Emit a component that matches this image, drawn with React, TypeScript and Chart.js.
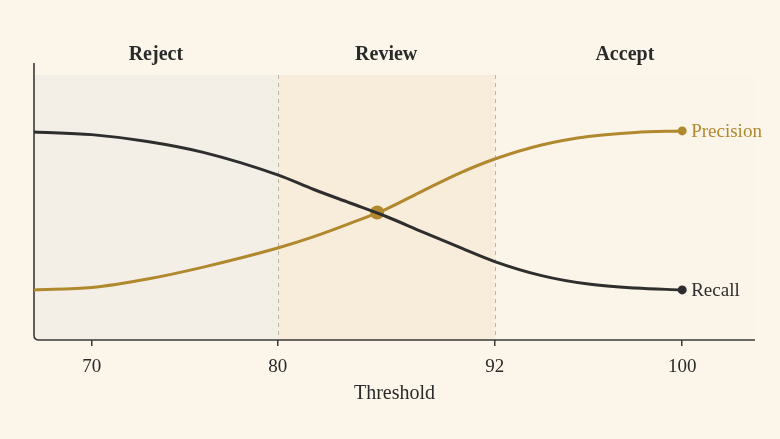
import React, { useEffect, useRef } from "react";
import { Chart, registerables, LinearScale } from "chart.js";

// ---- data ----
const thresholds = [67, 70, 73, 76, 80, 82, 84, 86, 88, 90, 92, 94, 96, 98, 100];
const recall = [0.785, 0.775, 0.749, 0.708, 0.623, 0.568, 0.517, 0.466, 0.408, 0.351, 0.296, 0.243, 0.211, 0.196, 0.189];
const precision = [0.189, 0.198, 0.23, 0.275, 0.347, 0.39, 0.44, 0.494, 0.562, 0.628, 0.683, 0.736, 0.768, 0.783, 0.789];
const crossing = { x: 85.5, y: 0.481 };
const tickValues = [70, 80, 92, 100];
const zoneNames = ["Reject", "Review", "Accept"];
const zoneBounds = [67, 80, 92, 103];
const boundaryLines = [80, 92];
// piecewise axis: threshold values and where they sit along the axis (0..1)
const axisValues = [67, 70, 80, 92, 100, 103];
const axisFractions = [0, 0.08, 0.338, 0.639, 0.899, 1];

const GOLD = "#B0882E";
const DARK = "#2E2E2E";
const BG = "#FBF5EA";
const SERIF = "'Liberation Serif', 'Times New Roman', serif";

function toFrac(v: number) {
  const n = axisValues.length;
  if (v <= axisValues[0]) {
    const s = (axisFractions[1] - axisFractions[0]) / (axisValues[1] - axisValues[0]);
    return axisFractions[0] + (v - axisValues[0]) * s;
  }
  for (let i = 0; i < n - 1; i++) {
    if (v <= axisValues[i + 1]) {
      const t = (v - axisValues[i]) / (axisValues[i + 1] - axisValues[i]);
      return axisFractions[i] + t * (axisFractions[i + 1] - axisFractions[i]);
    }
  }
  const s = (axisFractions[n - 1] - axisFractions[n - 2]) / (axisValues[n - 1] - axisValues[n - 2]);
  return axisFractions[n - 1] + (v - axisValues[n - 1]) * s;
}
function fromFrac(f: number) {
  const n = axisFractions.length;
  for (let i = 0; i < n - 1; i++) {
    if (f <= axisFractions[i + 1] || i === n - 2) {
      const t = (f - axisFractions[i]) / (axisFractions[i + 1] - axisFractions[i]);
      return axisValues[i] + t * (axisValues[i + 1] - axisValues[i]);
    }
  }
  return axisValues[n - 1];
}

class PiecewiseScale extends LinearScale {
  static id = "piecewise";
  static defaults = (LinearScale as any).defaults;
  getPixelForValue(value: number) {
    return (this as any).getPixelForDecimal(toFrac(value));
  }
  getValueForPixel(pixel: number) {
    return fromFrac((this as any).getDecimalForPixel(pixel));
  }
}

Chart.register(...registerables, PiecewiseScale as any);

const bandsPlugin = {
  id: "bands",
  beforeDraw(chart: any) {
    const { ctx, chartArea, scales } = chart;
    const x = scales.x;
    ctx.save();
    ctx.fillStyle = BG;
    ctx.fillRect(0, 0, chart.width, chart.height);
    const fills = ["#F4EFE6", "#F8ECDA", "#FBF4E8"];
    for (let i = 0; i < zoneNames.length; i++) {
      const x0 = x.getPixelForValue(zoneBounds[i]);
      const x1 = x.getPixelForValue(zoneBounds[i + 1]);
      ctx.fillStyle = fills[i];
      ctx.fillRect(x0, chartArea.top, x1 - x0, chartArea.bottom - chartArea.top);
      ctx.fillStyle = "#2A2A2A";
      ctx.font = `bold 20px ${SERIF}`;
      ctx.textAlign = "center";
      ctx.textBaseline = "middle";
      ctx.fillText(zoneNames[i], (x0 + x1) / 2, chartArea.top - 20);
    }
    ctx.strokeStyle = "#BDB4A8";
    ctx.lineWidth = 1;
    ctx.setLineDash([4, 4]);
    for (const b of boundaryLines) {
      const px = Math.round(x.getPixelForValue(b)) + 0.5;
      ctx.beginPath();
      ctx.moveTo(px, chartArea.top);
      ctx.lineTo(px, chartArea.bottom);
      ctx.stroke();
    }
    ctx.setLineDash([]);
    // axis lines with rounded corner
    const l = chartArea.left, b = chartArea.bottom, r = 5;
    ctx.strokeStyle = "#3A3A3A";
    ctx.lineWidth = 1.6;
    ctx.beginPath();
    ctx.moveTo(l, chartArea.top - 12);
    ctx.lineTo(l, b - r);
    ctx.quadraticCurveTo(l, b, l + r, b);
    ctx.lineTo(chartArea.right, b);
    ctx.stroke();
    ctx.restore();
  },
  afterDatasetsDraw(chart: any) {
    const { ctx } = chart;
    ctx.save();
    ctx.font = `19px ${SERIF}`;
    ctx.textAlign = "left";
    ctx.textBaseline = "middle";
    const labels = [
      { idx: 1, text: "Precision", color: GOLD },
      { idx: 0, text: "Recall", color: DARK },
    ];
    for (const lb of labels) {
      const meta = chart.getDatasetMeta(lb.idx);
      const pt = meta.data[meta.data.length - 1];
      ctx.fillStyle = lb.color;
      ctx.fillText(lb.text, pt.x + 9, pt.y + 1);
    }
    ctx.restore();
  },
};

export default function App() {
  const ref = useRef<HTMLCanvasElement | null>(null);
  useEffect(() => {
    document.body.style.margin = "0";
    const lastOnly = () => thresholds.map((_, i) => (i === thresholds.length - 1 ? 4.5 : 0));
    const chart = new Chart(ref.current as HTMLCanvasElement, {
      type: "line",
      data: {
        datasets: [
          {
            label: "Recall",
            data: thresholds.map((t, i) => ({ x: t, y: recall[i] })),
            borderColor: DARK,
            backgroundColor: DARK,
            borderWidth: 3,
            pointRadius: lastOnly(),
            pointBorderWidth: 0,
            cubicInterpolationMode: "monotone",
          },
          {
            label: "Precision",
            data: thresholds.map((t, i) => ({ x: t, y: precision[i] })),
            borderColor: GOLD,
            backgroundColor: GOLD,
            borderWidth: 3,
            pointRadius: lastOnly(),
            pointBorderWidth: 0,
            cubicInterpolationMode: "monotone",
          },
          {
            label: "Crossing",
            data: [crossing],
            borderColor: GOLD,
            backgroundColor: GOLD,
            showLine: false,
            pointRadius: 7,
            pointBorderWidth: 0,
          },
        ],
      },
      options: {
        animation: false,
        responsive: true,
        maintainAspectRatio: false,
        layout: { padding: { left: 34, right: 25, top: 75, bottom: 35 } },
        plugins: { legend: { display: false }, tooltip: { enabled: false } },
        scales: {
          x: {
            type: "piecewise" as any,
            min: 67,
            max: 103,
            afterBuildTicks: (s: any) => {
              s.ticks = tickValues.map((v) => ({ value: v }));
            },
            afterFit: (s: any) => {
              s.height = 64;
            },
            grid: {
              drawOnChartArea: false,
              drawTicks: true,
              tickLength: 6,
              color: "#3A3A3A",
              lineWidth: 1.5,
            },
            border: { display: false },
            ticks: {
              font: { family: SERIF, size: 19 },
              color: "#2A2A2A",
              padding: 9.6,
              maxRotation: 0,
            },
            title: {
              display: true,
              text: "Threshold",
              font: { family: SERIF, size: 20 },
              color: "#2A2A2A",
              padding: { top: 0, bottom: -2 },
            },
          },
          y: {
            display: false,
            min: 0,
            max: 1,
          },
        },
      } as any,
      plugins: [bandsPlugin],
    });
    return () => chart.destroy();
  }, []);
  return (
    <div style={{ width: 780, height: 439, position: "relative" }}>
      <canvas ref={ref} />
    </div>
  );
}
